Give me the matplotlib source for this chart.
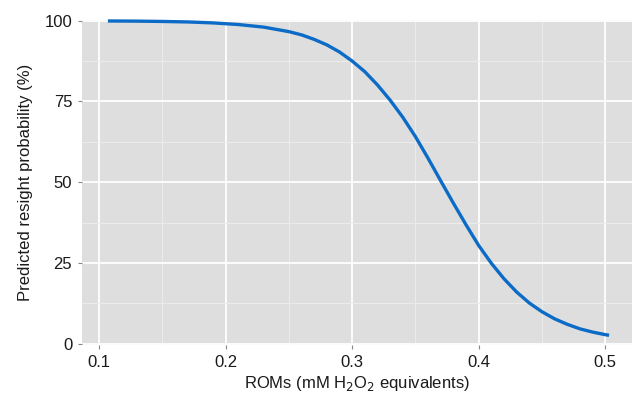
import matplotlib
matplotlib.use("Agg")
import matplotlib.pyplot as plt
from matplotlib.ticker import MultipleLocator

# values
roms = [0.107, 0.13, 0.15, 0.17, 0.19, 0.21, 0.23, 0.25, 0.26, 0.27, 0.28,
        0.29, 0.30, 0.31, 0.32, 0.33, 0.34, 0.35, 0.36, 0.37, 0.38, 0.39,
        0.40, 0.41, 0.42, 0.43, 0.44, 0.45, 0.46, 0.47, 0.48, 0.49, 0.50, 0.503]
prob = [99.9, 99.85, 99.75, 99.6, 99.3, 98.8, 98.0, 96.6, 95.6, 94.2, 92.5,
        90.3, 87.5, 84.2, 80.1, 75.4, 70.1, 64.1, 57.4, 50.4, 43.5, 36.8,
        30.4, 24.9, 20.1, 16.0, 12.6, 9.9, 7.7, 6.0, 4.6, 3.6, 2.8, 2.6]

x_ticks = [0.1, 0.2, 0.3, 0.4, 0.5]
y_ticks = [0, 25, 50, 75, 100]

plt.rcParams["font.family"] = ["Liberation Sans", "DejaVu Sans"]

fig = plt.figure(figsize=(6.32, 4.0), dpi=100)
ax = fig.add_axes([0.1297, 0.1375, 0.87, 0.8125])
ax.set_facecolor("#dedede")

ax.plot(roms, prob, color="#0b6bc6", lw=2.4, solid_capstyle="butt",
        solid_joinstyle="round", clip_on=False, zorder=3)

ax.set_xlim(0.0865, 0.521)
ax.set_ylim(-0.4, 100.2)
ax.set_xticks(x_ticks)
ax.set_yticks(y_ticks)
ax.set_xticklabels([f"{v:.1f}" for v in x_ticks])
ax.set_yticklabels([str(v) for v in y_ticks])
ax.xaxis.set_minor_locator(MultipleLocator(0.05))
ax.yaxis.set_minor_locator(MultipleLocator(12.5))

ax.grid(which="major", color="white", lw=1.3)
ax.grid(which="minor", color="#ececec", lw=0.7)
ax.set_axisbelow(True)
for s in ax.spines.values():
    s.set_visible(False)

ax.tick_params(which="major", length=3, width=0.8, color="#888888",
               labelsize=12, labelcolor="#1a1a1a", pad=4)
ax.tick_params(which="minor", length=0)

ax.set_xlabel("ROMs (mM H$_2$O$_2$ equivalents)", fontsize=12, color="#1a1a1a", labelpad=3)
ax.set_ylabel("Predicted resight probability (%)", fontsize=12, color="#1a1a1a", labelpad=8)

fig.savefig("out.png", dpi=100)
